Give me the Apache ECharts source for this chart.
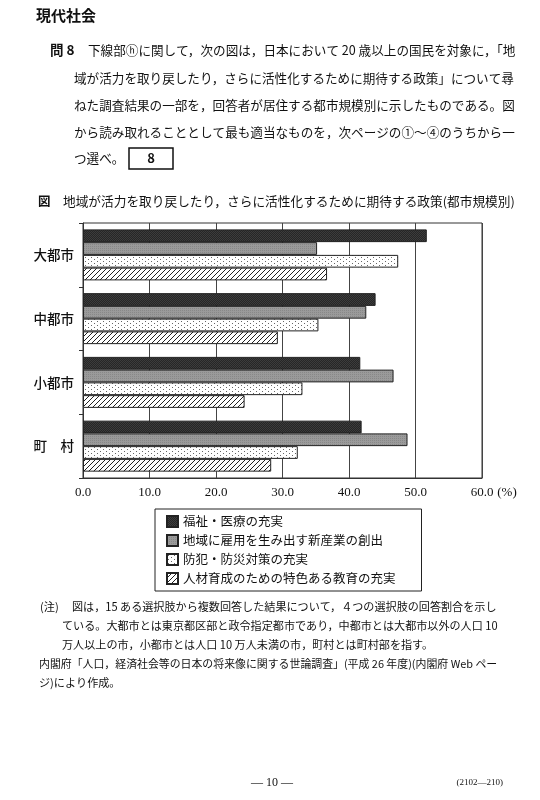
<!DOCTYPE html>
<html>
<head>
<meta charset="utf-8">
<script src="https://cdn.jsdelivr.net/npm/echarts@6/dist/echarts.min.js"></script>
<style>
  html, body { margin: 0; padding: 0; background: #fff; }
  #main { width: 540px; height: 800px; }
</style>
</head>
<body>
<div id="main"></div>
<script>
// データ
var categories = ['大都市', '中都市', '小都市', '町　村'];
var seriesNames = [
    '福祉・医療の充実',
    '地域に雇用を生み出す新産業の創出',
    '防犯・防災対策の充実',
    '人材育成のための特色ある教育の充実'
];
var welfare   = [51.7, 44.0, 41.7, 41.9];
var industry  = [35.2, 42.6, 46.7, 48.8];
var safety    = [47.4, 35.4, 33.0, 32.3];
var education = [36.7, 29.3, 24.3, 28.3];
var xTicks = [0, 10, 20, 30, 40, 50, 60];

var JP = '"Noto Sans CJK JP", sans-serif';
var NUM = '"Liberation Serif", "DejaVu Serif", serif';

// 模様（塗りつぶしパターン）
function makePattern(w, h, draw) {
    var c = document.createElement('canvas');
    c.width = w; c.height = h;
    var ctx = c.getContext('2d');
    draw(ctx);
    return { image: c, repeat: 'repeat' };
}
var darkFill = makePattern(2, 2, function (ctx) {
    ctx.fillStyle = '#262626'; ctx.fillRect(0, 0, 2, 2);
    ctx.fillStyle = '#3c3c3c'; ctx.fillRect(0, 0, 1, 1); ctx.fillRect(1, 1, 1, 1);
});
var grayFill = makePattern(2, 2, function (ctx) {
    ctx.fillStyle = '#9a9a9a'; ctx.fillRect(0, 0, 2, 2);
    ctx.fillStyle = '#888'; ctx.fillRect(0, 0, 1, 1);
});
var dotFill = makePattern(6, 4, function (ctx) {
    ctx.fillStyle = '#fff'; ctx.fillRect(0, 0, 6, 4);
    ctx.fillStyle = '#666'; ctx.fillRect(1, 1, 1, 1); ctx.fillRect(4, 3, 1, 1);
});
var hatchFill = makePattern(5, 5, function (ctx) {
    ctx.fillStyle = '#fff'; ctx.fillRect(0, 0, 5, 5);
    ctx.strokeStyle = '#222'; ctx.lineWidth = 1;
    ctx.beginPath();
    ctx.moveTo(-1, 6); ctx.lineTo(6, -1);
    ctx.moveTo(-1, 1); ctx.lineTo(1, -1);
    ctx.moveTo(4, 6); ctx.lineTo(6, 4);
    ctx.stroke();
});
var fills = [darkFill, grayFill, dotFill, hatchFill];
var values = [welfare, industry, safety, education];

function txt(x, y, text, size, weight, extra) {
    var s = { text: text, x: 0, y: 0, fill: '#111',
              font: (weight || 'normal') + ' ' + size + 'px ' + JP,
              verticalAlign: 'middle' };
    if (extra) { for (var k in extra) s[k] = extra[k]; }
    return { type: 'text', x: x, y: y, style: s, silent: true };
}

var dom = document.getElementById('main');
var myChart = echarts.init(dom, null, { renderer: 'canvas' });

var option = {
    backgroundColor: '#fff',
    animation: false,
    grid: {
        left: 83, right: 58, top: 223, bottom: 322,
        show: true, borderColor: '#333', borderWidth: 1
    },
    legend: {
        orient: 'vertical',
        left: 155, top: 509,
        data: seriesNames,
        icon: 'rect',
        itemWidth: 11, itemHeight: 11,
        itemGap: 6,
        padding: [6, 26, 6, 11],
        borderColor: '#222', borderWidth: 1,
        textStyle: { fontFamily: JP, fontSize: 12.5, color: '#111' }
    },
    xAxis: {
        type: 'value',
        min: 0, max: 60, interval: 10,
        axisLine: { show: true, lineStyle: { color: '#333', width: 1 } },
        axisTick: { show: false },
        splitLine: { show: true, lineStyle: { color: '#444', width: 1 } },
        axisLabel: {
            fontFamily: NUM, fontSize: 13, color: '#111', margin: 8,
            formatter: function (v) { return xTicks.indexOf(v) >= 0 ? v.toFixed(1) : ''; }
        },
        name: '(%)',
        nameLocation: 'end',
        nameGap: -18,
        nameTextStyle: { fontFamily: NUM, fontSize: 13, color: '#111',
                         verticalAlign: 'top', padding: [8, 0, 0, 0] }
    },
    yAxis: {
        type: 'category',
        data: categories,
        inverse: true,
        axisLine: { show: true, lineStyle: { color: '#333', width: 1 } },
        axisTick: { show: true, length: 4, lineStyle: { color: '#333' } },
        axisLabel: { fontFamily: JP, fontSize: 13.5, fontWeight: 500, color: '#111', margin: 9 }
    },
    series: seriesNames.map(function (name, i) {
        return {
            name: name,
            type: 'bar',
            data: values[i],
            barGap: '0%',
            barCategoryGap: '20%',
            itemStyle: { color: fills[i], borderColor: '#222', borderWidth: 1 }
        };
    }),
    graphic: [
        txt(36, 15, '現代社会', 15, 'bold'),
        txt(50, 50, '問 8', 13.5, 'bold'),
        txt(88, 50, '下線部ⓗに関して，次の図は，日本において 20 歳以上の国民を対象に，「地', 12.6),
        txt(74, 78, '域が活力を取り戻したり，さらに活性化するために期待する政策」について尋', 12.6),
        txt(74, 105, 'ねた調査結果の一部を，回答者が居住する都市規模別に示したものである。図', 12.6),
        txt(74, 132, 'から読み取れることとして最も適当なものを，次ページの①～④のうちから一', 12.6),
        txt(74, 158, 'つ選べ。', 12.6),
        { type: 'rect', shape: { x: 129, y: 148, width: 44, height: 21 },
          style: { fill: 'none', stroke: '#111', lineWidth: 1.5 }, silent: true },
        txt(151, 158.5, '8', 13, 'bold', { align: 'center' }),
        txt(38, 201, '図', 12.5, 'bold'),
        txt(63, 201, '地域が活力を取り戻したり，さらに活性化するために期待する政策(都市規模別)', 12.7),
        txt(40, 607, '(注)', 11.2),
        txt(72, 607, '図は，15 ある選択肢から複数回答した結果について，４つの選択肢の回答割合を示し', 11.1),
        txt(62, 626, 'ている。大都市とは東京都区部と政令指定都市であり，中都市とは大都市以外の人口 10', 11.1),
        txt(62, 645, '万人以上の市，小都市とは人口 10 万人未満の市，町村とは町村部を指す。', 11.1),
        txt(39, 664, '内閣府「人口，経済社会等の日本の将来像に関する世論調査」(平成 26 年度)(内閣府 Web ペー', 10.9),
        txt(39, 683, 'ジ)により作成。', 11.1),
        txt(272, 783, '— 10 —', 12, 'normal', { align: 'center', font: '12px ' + NUM }),
        txt(503, 783, '(2102—210)', 9, 'normal', { align: 'right', font: '9px ' + NUM })
    ]
};

if (option && typeof option === 'object') {
    myChart.setOption(option, true);
}
window.addEventListener('resize', function () { myChart.resize(); });
</script>
</body>
</html>
